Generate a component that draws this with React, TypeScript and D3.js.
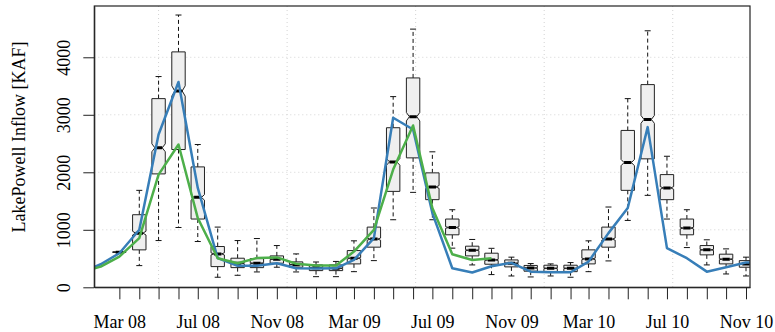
import { useEffect, useRef } from "react";
import * as d3 from "d3";

// monthly ensemble boxes
const boxMonths = [
  "2008-03", "2008-04", "2008-05", "2008-06", "2008-07", "2008-08", "2008-09", "2008-10", "2008-11", "2008-12",
  "2009-01", "2009-02", "2009-03", "2009-04", "2009-05", "2009-06", "2009-07", "2009-08", "2009-09", "2009-10", "2009-11", "2009-12",
  "2010-01", "2010-02", "2010-03", "2010-04", "2010-05", "2010-06", "2010-07", "2010-08", "2010-09", "2010-10", "2010-11",
];
const whiskerLow = [611, 377, 813, 1040, 796, 175, 209, 267, 349, 267, 185, 185, 272, 464, 1175, 1651, 1175, 681, 389, 221, 197, 180, 197, 175, 272, 459, 1163, 1599, 1187, 691, 389, 232, 197];
const lowerQuartile = [611, 651, 1972, 2396, 1187, 360, 342, 342, 419, 349, 290, 290, 407, 698, 1668, 2251, 1524, 913, 546, 401, 355, 280, 272, 272, 407, 698, 1686, 2234, 1524, 913, 564, 407, 349];
const medians = [611, 942, 2426, 3414, 1564, 581, 419, 419, 489, 394, 342, 331, 506, 838, 2181, 2967, 1745, 1040, 645, 476, 419, 336, 331, 331, 494, 838, 2169, 2920, 1728, 1030, 651, 489, 407];
const upperQuartile = [611, 1262, 3281, 4094, 2094, 709, 506, 499, 546, 442, 389, 389, 639, 1047, 2775, 3641, 1990, 1187, 715, 593, 476, 380, 384, 384, 651, 1047, 2728, 3525, 1960, 1187, 726, 576, 464];
const whiskerHigh = [611, 1686, 3665, 4735, 2483, 1047, 813, 848, 726, 581, 440, 450, 808, 1379, 3316, 4490, 2356, 1349, 832, 678, 524, 413, 407, 430, 808, 1396, 3281, 4461, 2279, 1349, 826, 668, 524];

// lines
const blueMonths = [
  "2008-01", "2008-02", "2008-03", "2008-04", "2008-05", "2008-06", "2008-07", "2008-08", "2008-09", "2008-10", "2008-11", "2008-12",
  "2009-01", "2009-02", "2009-03", "2009-04", "2009-05", "2009-06", "2009-07", "2009-08", "2009-09", "2009-10", "2009-11", "2009-12",
  "2010-01", "2010-02", "2010-03", "2010-04", "2010-05", "2010-06", "2010-07", "2010-08", "2010-09", "2010-10", "2010-11", "2010-12",
];
const blueValues = [260, 401, 593, 1000, 2658, 3571, 1728, 506, 375, 375, 419, 331, 325, 331, 476, 855, 2949, 2745, 1291, 331, 258, 366, 425, 272, 262, 262, 447, 942, 1379, 2786, 681, 506, 272, 349, 430, 440];
const greenMonths = blueMonths.slice(0, 22);
const greenValues = [260, 360, 534, 855, 1960, 2483, 1204, 506, 419, 510, 520, 410, 380, 380, 621, 1000, 2047, 2815, 1379, 576, 476, 506];

const yTicks = [0, 1000, 2000, 3000, 4000];
const gridDays = [14000, 14200, 14400, 14600, 14800]; // days since 1970-01-01

export default function App() {
  const svgRef = useRef<SVGSVGElement>(null);

  useEffect(() => {
    const svg = d3.select(svgRef.current);
    svg.selectAll("*").remove();
    const width = 775;
    const height = 332;
    const left = 94.3, right = 750, top = 6, bottom = 287.3;
    const font = "'Liberation Serif', 'DejaVu Serif', serif";
    const parse = d3.utcParse("%Y-%m");

    const x = d3.scaleUtc()
      .domain([new Date(Date.UTC(2008, 0, 22)), new Date(Date.UTC(2010, 10, 7, 5))])
      .range([left, right]);
    const y = d3.scaleLinear().domain([0, 4892]).range([bottom, top]);

    svg.append("rect").attr("width", width).attr("height", height).attr("fill", "white");

    svg.append("defs").append("clipPath").attr("id", "plotclip")
      .append("rect").attr("x", left).attr("y", top).attr("width", right - left).attr("height", bottom - top);

    const plot = svg.append("g").attr("clip-path", "url(#plotclip)");

    // grid
    plot.selectAll("line.hgrid").data(yTicks.slice(1)).join("line")
      .attr("x1", left).attr("x2", right)
      .attr("y1", d => y(d)).attr("y2", d => y(d))
      .attr("stroke", "#d3d3d3").attr("stroke-dasharray", "1,3");
    plot.selectAll("line.vgrid").data(gridDays).join("line")
      .attr("x1", d => x(new Date(d * 86400000))).attr("x2", d => x(new Date(d * 86400000)))
      .attr("y1", top).attr("y2", bottom)
      .attr("stroke", "#d3d3d3").attr("stroke-dasharray", "1,3");

    // boxes
    const boxes = boxMonths.map((m, i) => ({
      date: parse(m)!,
      lo: whiskerLow[i], q1: lowerQuartile[i], med: medians[i], q3: upperQuartile[i], hi: whiskerHigh[i],
    }));
    const hw = 6.7;
    const capW = 3;
    boxes.forEach(b => {
      const cx = x(b.date);
      const g = plot.append("g");
      const notch = (1.58 * (b.q3 - b.q1)) / 30;
      g.append("line").attr("x1", cx).attr("x2", cx).attr("y1", y(b.q3)).attr("y2", y(b.hi))
        .attr("stroke", "#111").attr("stroke-dasharray", "4,3");
      g.append("line").attr("x1", cx).attr("x2", cx).attr("y1", y(b.q1)).attr("y2", y(b.lo))
        .attr("stroke", "#111").attr("stroke-dasharray", "4,3");
      [b.hi, b.lo].forEach(v => {
        g.append("line").attr("x1", cx - capW).attr("x2", cx + capW).attr("y1", y(v)).attr("y2", y(v))
          .attr("stroke", "#111");
      });
      const pts: [number, number][] = [
        [cx - hw, y(b.q1)], [cx - hw, y(b.med - notch)], [cx - hw * 0.55, y(b.med)], [cx - hw, y(b.med + notch)],
        [cx - hw, y(b.q3)], [cx + hw, y(b.q3)], [cx + hw, y(b.med + notch)], [cx + hw * 0.55, y(b.med)],
        [cx + hw, y(b.med - notch)], [cx + hw, y(b.q1)],
      ];
      g.append("polygon").attr("points", pts.map(p => p.join(",")).join(" "))
        .attr("fill", "#efefef").attr("stroke", "#222").attr("stroke-width", 1);
      g.append("line").attr("x1", cx - hw * 0.55).attr("x2", cx + hw * 0.55)
        .attr("y1", y(b.med)).attr("y2", y(b.med))
        .attr("stroke", "#000").attr("stroke-width", 3);
    });

    // lines
    const line = d3.line<[Date, number]>().x(d => x(d[0])).y(d => y(d[1]));
    plot.append("path")
      .datum(blueMonths.map((m, i) => [parse(m)!, blueValues[i]] as [Date, number]))
      .attr("d", line).attr("fill", "none").attr("stroke", "#377eb8").attr("stroke-width", 2.5)
      .attr("stroke-linejoin", "round");
    plot.append("path")
      .datum(greenMonths.map((m, i) => [parse(m)!, greenValues[i]] as [Date, number]))
      .attr("d", line).attr("fill", "none").attr("stroke", "#4daf4a").attr("stroke-width", 2.5)
      .attr("stroke-linejoin", "round");

    // frame
    svg.append("rect").attr("x", left).attr("y", top).attr("width", right - left).attr("height", bottom - top)
      .attr("fill", "none").attr("stroke", "#222").attr("stroke-width", 1.2);

    // x axis
    const fmt = d3.utcFormat("%b %y");
    const xAxis = svg.append("g").attr("transform", `translate(0,${bottom})`)
      .call(d3.axisBottom(x)
        .tickValues(boxes.map(b => b.date))
        .tickSize(12).tickSizeOuter(0)
        .tickFormat((d, i) => (i % 4 === 0 ? fmt(d as Date) : "")));
    xAxis.select(".domain").attr("stroke", "#222");
    xAxis.selectAll(".tick line").attr("stroke", "#222");
    xAxis.selectAll(".tick text")
      .attr("y", 41).attr("dy", 0)
      .attr("fill", "#000").style("font-family", font).style("font-size", "18px");

    // y axis
    const yAxis = svg.append("g").attr("transform", `translate(${left},0)`)
      .call(d3.axisLeft(y).tickValues(yTicks).tickSize(11).tickSizeOuter(0).tickFormat(d3.format("d")));
    yAxis.select(".domain").attr("stroke", "#222");
    yAxis.selectAll(".tick line").attr("stroke", "#222");
    yAxis.selectAll(".tick text")
      .attr("transform", "rotate(-90)")
      .attr("x", 0).attr("y", -24).attr("dy", 0)
      .attr("text-anchor", "middle")
      .attr("fill", "#000").style("font-family", font).style("font-size", "18px");

    svg.append("text")
      .attr("transform", `translate(25,137) rotate(-90)`)
      .attr("text-anchor", "middle")
      .style("font-family", font).style("font-size", "18px")
      .text("LakePowell Inflow [KAF]");
  }, []);

  return (
    <div>
      <style>{`body{margin:0}`}</style>
      <svg ref={svgRef} width={775} height={332} style={{ display: "block" }} />
    </div>
  );
}
